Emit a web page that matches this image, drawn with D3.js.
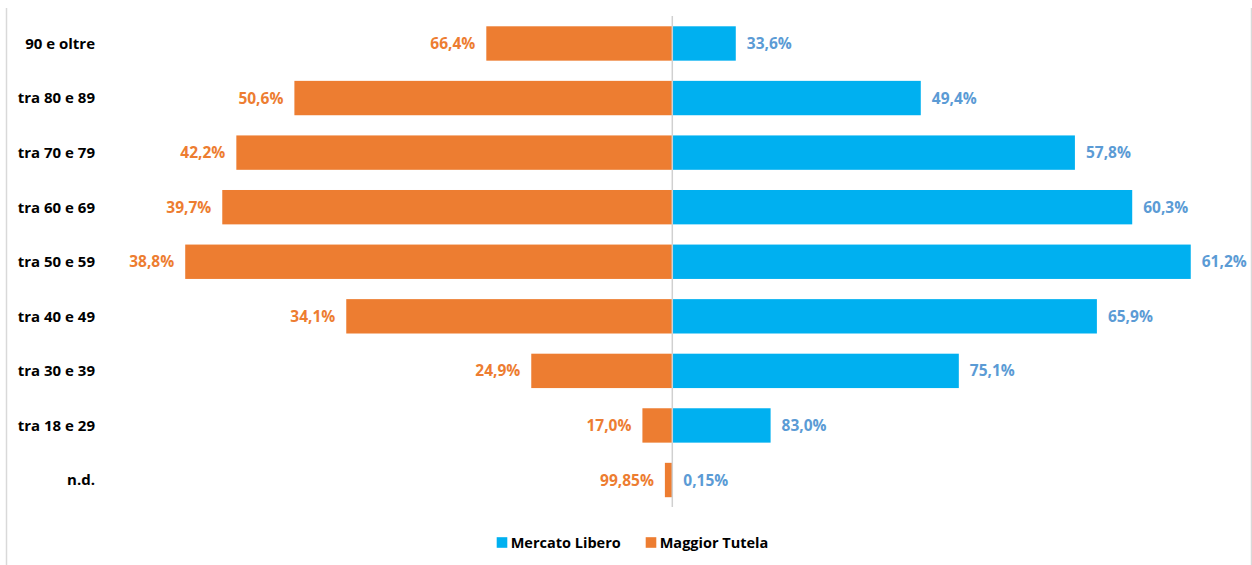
<!DOCTYPE html>
<html>
<head>
<meta charset="utf-8">
<script src="https://cdn.jsdelivr.net/npm/d3@7"></script>
<style>
  body { margin: 0; background: #fff; }
  div.chart { width: 1252px; height: 565px; }
  text { font-family: "Open Sans", "Noto Sans", sans-serif; font-weight: 700; }
</style>
</head>
<body>
<div class="chart"></div>
<script>
// age groups, top to bottom
var categories = ["90 e oltre", "tra 80 e 89", "tra 70 e 79", "tra 60 e 69", "tra 50 e 59",
                  "tra 40 e 49", "tra 30 e 39", "tra 18 e 29", "n.d."];

// bar lengths (share of each market's customers, %)
var tutelaValues = [7.53, 15.30, 17.65, 18.22, 19.72, 13.20, 5.71, 1.21, 0.30];
var liberoValues = [2.57, 10.06, 16.30, 18.62, 20.99, 17.19, 11.60, 3.98, 0.0];

// labels shown next to the bars
var tutelaLabels = ["66,4%", "50,6%", "42,2%", "39,7%", "38,8%", "34,1%", "24,9%", "17,0%", "99,85%"];
var liberoLabels = ["33,6%", "49,4%", "57,8%", "60,3%", "61,2%", "65,9%", "75,1%", "83,0%", "0,15%"];

var seriesNames = ["Mercato Libero", "Maggior Tutela"];

var orange = "#ED7D31";
var blue = "#00B0F0";
var orangeText = "#ED7D31";
var blueText = "#5B9BD5";

drawChart();

function drawChart(){

    var w = 1252;
    var h = 565;
    var zeroX = 672.3;
    var pxPerUnit = 24.7;

    var svg = d3.select("div.chart")
              .append("svg")
              .attr("width", w)
              .attr("height", h)
              .attr("viewBox", `0 0 ${w} ${h}`);

    // chart frame (only the sides show)
    svg.append("line")
        .attr("x1", 6.5).attr("x2", 6.5)
        .attr("y1", 8).attr("y2", h)
        .attr("stroke", "#d9d9d9")
        .attr("stroke-width", 1.5);
    svg.append("line")
        .attr("x1", 1251.5).attr("x2", 1251.5)
        .attr("y1", 8).attr("y2", h)
        .attr("stroke", "#d9d9d9")
        .attr("stroke-width", 1.5);

    var x = d3.scaleLinear()
              .domain([-22, 22])
              .range([zeroX - 22*pxPerUnit, zeroX + 22*pxPerUnit]);

    var y = d3.scaleBand()
              .domain(categories)
              .range([16.2, 507.3])
              .paddingInner(0.37)
              .paddingOuter(0.185);

    var rows = categories.map(function(c, i){
        return {cat: c, tutela: tutelaValues[i], libero: liberoValues[i],
                tLab: tutelaLabels[i], lLab: liberoLabels[i]};
    });

    // maggior tutela to the left
    svg.selectAll(".bar-tutela")
        .data(rows)
        .enter()
        .append("rect")
            .attr("class", "bar-tutela")
            .attr("x", d => x(-d.tutela))
            .attr("y", d => y(d.cat))
            .attr("width", d => x(0) - x(-d.tutela))
            .attr("height", y.bandwidth())
            .attr("fill", orange);

    // mercato libero to the right
    svg.selectAll(".bar-libero")
        .data(rows)
        .enter()
        .append("rect")
            .attr("class", "bar-libero")
            .attr("x", x(0))
            .attr("y", d => y(d.cat))
            .attr("width", d => x(d.libero) - x(0))
            .attr("height", y.bandwidth())
            .attr("fill", blue);

    // center axis
    svg.append("line")
        .attr("x1", x(0)).attr("x2", x(0))
        .attr("y1", 16).attr("y2", 507)
        .attr("stroke", "#d0d0d0")
        .attr("stroke-width", 1.5);

    // value labels
    svg.selectAll(".lab-tutela")
        .data(rows)
        .enter()
        .append("text")
            .attr("x", d => x(-d.tutela) - 11)
            .attr("y", d => y(d.cat) + y.bandwidth()/2)
            .attr("dy", "0.36em")
            .attr("text-anchor", "end")
            .attr("font-size", 15.5)
            .attr("fill", orangeText)
            .text(d => d.tLab);

    svg.selectAll(".lab-libero")
        .data(rows)
        .enter()
        .append("text")
            .attr("x", d => x(d.libero) + 11)
            .attr("y", d => y(d.cat) + y.bandwidth()/2)
            .attr("dy", "0.36em")
            .attr("font-size", 15.5)
            .attr("fill", blueText)
            .text(d => d.lLab);

    // category axis labels
    svg.selectAll(".cat")
        .data(rows)
        .enter()
        .append("text")
            .attr("x", 95)
            .attr("y", d => y(d.cat) + y.bandwidth()/2)
            .attr("dy", "0.36em")
            .attr("text-anchor", "end")
            .attr("font-size", 15)
            .attr("fill", "#000")
            .text(d => d.cat);

    // legend
    var legendItems = [
        {name: seriesNames[0], color: blue, x: 496.7},
        {name: seriesNames[1], color: orange, x: 645.7}
    ];
    var legend = svg.selectAll(".legend")
        .data(legendItems)
        .enter()
        .append("g")
            .attr("transform", d => `translate(${d.x},542.5)`);
    legend.append("rect")
        .attr("x", 0).attr("y", -5.3)
        .attr("width", 10.6).attr("height", 10.6)
        .attr("fill", d => d.color);
    legend.append("text")
        .attr("x", 14)
        .attr("dy", "0.36em")
        .attr("font-size", 14.5)
        .attr("fill", "#000")
        .text(d => d.name);
}
</script>
</body>
</html>
